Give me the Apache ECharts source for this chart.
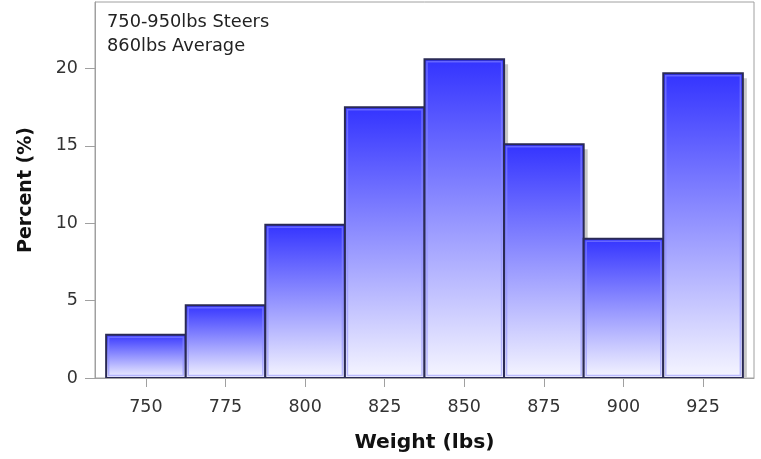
<!DOCTYPE html>
<html>
<head>
<meta charset="utf-8">
<script src="https://cdn.jsdelivr.net/npm/echarts@6/dist/echarts.min.js"></script>
<style>
html,body{margin:0;padding:0;background:#fff;}
#chart{width:761px;height:459px;}
</style>
</head>
<body>
<div id="chart"></div>
<script>
var binCenters = [750, 775, 800, 825, 850, 875, 900, 925];
var percentValues = [2.8, 4.7, 9.9, 17.5, 20.6, 15.1, 9.0, 19.7];
var binWidth = 25;
var xTickValues = [750, 775, 800, 825, 850, 875, 900, 925];
var yTickValues = [0, 5, 10, 15, 20];
var annotationLines = ['750-950lbs Steers', '860lbs Average'];
var xTitle = 'Weight (lbs)';
var yTitle = 'Percent (%)';

var FONT = 'DejaVu Sans';
var chart = echarts.init(document.getElementById('chart'), null, {renderer: 'canvas'});

function renderItem(params, api) {
  var x = api.value(0), v = api.value(1);
  var p0 = api.coord([x - binWidth / 2, v]);
  var p1 = api.coord([x + binWidth / 2, 0]);
  var w = p1[0] - p0[0], h = p1[1] - p0[1];
  var grad = new echarts.graphic.LinearGradient(0, 0, 0, 1, [
    {offset: 0, color: '#3333ff'},
    {offset: 1, color: '#f6f6ff'}
  ]);
  return {
    type: 'group',
    children: [
      {type: 'rect', shape: {x: p0[0] + 4, y: p0[1] + 5, width: w, height: h - 5}, style: {fill: '#c8c8c8'}},
      {type: 'rect', shape: {x: p0[0], y: p0[1], width: w, height: h}, style: {fill: grad, stroke: '#2a2a55', lineWidth: 2}},
      {type: 'rect', shape: {x: p0[0] + 2.5, y: p0[1] + 2.5, width: w - 5, height: h - 5}, style: {fill: 'none', stroke: 'rgba(140,140,255,0.55)', lineWidth: 1.5}}
    ]
  };
}

var data = binCenters.map(function (c, i) { return [c, percentValues[i]]; });

chart.setOption({
  animation: false,
  backgroundColor: '#ffffff',
  grid: {left: 95, right: 7, top: 2, bottom: 81, show: true, borderColor: '#a0a0a0', borderWidth: 1, backgroundColor: 'transparent'},
  title: {
    text: annotationLines.join('\n'),
    left: 102, top: 5,
    textStyle: {fontFamily: FONT, fontSize: 17.8, fontWeight: 'normal', color: '#222', lineHeight: 24}
  },
  xAxis: {
    type: 'value', min: 734, max: 941,
    name: xTitle, nameLocation: 'middle', nameGap: 55,
    nameTextStyle: {fontFamily: FONT, fontSize: 20.3, fontWeight: 'bold', color: '#111'},
    axisLine: {show: true, lineStyle: {color: '#a0a0a0', width: 1}},
    axisTick: {show: true, length: 9, lineStyle: {color: '#a0a0a0'}, customValues: xTickValues},
    axisLabel: {fontFamily: FONT, fontSize: 17.5, color: '#333', margin: 20, customValues: xTickValues},
    splitLine: {show: false}
  },
  yAxis: {
    type: 'value', min: 0, max: 24.3,
    name: yTitle, nameLocation: 'middle', nameGap: 59, nameRotate: 90,
    nameTextStyle: {fontFamily: FONT, fontSize: 19, fontWeight: 'bold', color: '#111'},
    axisLine: {show: true, lineStyle: {color: '#a0a0a0', width: 1}},
    axisTick: {show: true, length: 10, lineStyle: {color: '#a0a0a0'}, customValues: yTickValues},
    axisLabel: {fontFamily: FONT, fontSize: 17.5, color: '#333', margin: 17, customValues: yTickValues},
    splitLine: {show: false}
  },
  series: [{
    type: 'custom',
    renderItem: renderItem,
    encode: {x: 0, y: 1},
    data: data,
    clip: true
  }]
});
</script>
</body>
</html>
